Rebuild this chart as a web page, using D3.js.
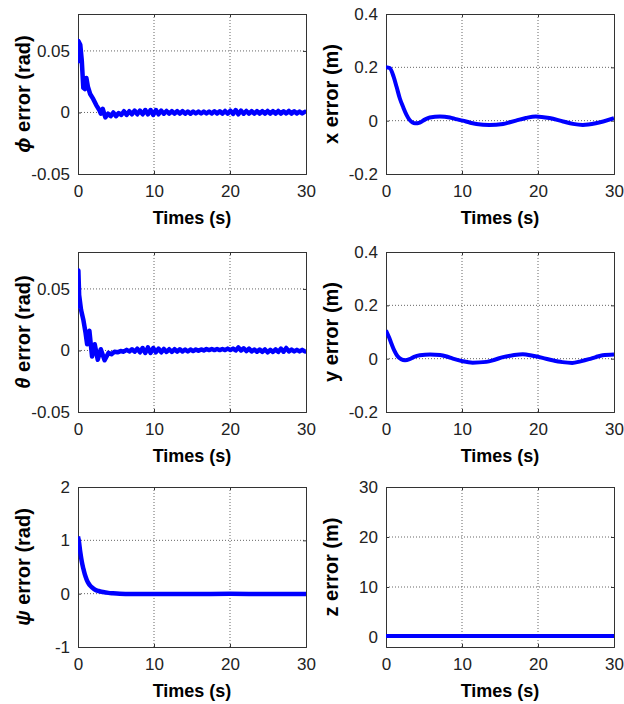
<!DOCTYPE html>
<html>
<head>
<meta charset="utf-8">
<script src="https://cdn.jsdelivr.net/npm/d3@7"></script>
<style>
  body { margin: 0; background: #fff; }
  svg { display: block; font-family: "Liberation Sans", Arial, sans-serif; }
</style>
</head>
<body>
<script>
// time axis shared by every panel
const timeTicks = [0, 10, 20, 30]

// [t (s), error]
const phiErr = [[0,0.040],[0.05,0.058],[0.3,0.055],[0.5,0.042],[0.7,0.020],[0.9,0.019],[1.1,0.028],[1.3,0.021],[1.6,0.015],[2.0,0.011],[2.4,0.006],[2.8,0.002],[3.0,-0.001],[3.25,0.003],[3.6,-0.004],[3.95,-0.001],[4.3,-0.003],[4.65,0.000],[5.0,-0.003],[5.35,-0.0005],[5.7,-0.002],[6.05,0.001],[6.4,-0.002],[6.75,0.001],[7.1,-0.0015],[7.45,0.0015],[7.8,-0.0015],[8.15,0.0015],[8.5,-0.0015],[8.85,0.002],[9.2,-0.0015],[9.55,0.002],[9.9,-0.002],[10.25,0.002],[10.6,-0.0015],[10.95,0.0015],[11.3,-0.001],[11.65,0.0012],[12.0,-0.001],[12.35,0.001],[12.7,-0.001],[13.05,0.001],[13.4,-0.001],[13.75,0.001],[14.1,-0.001],[14.45,0.0008],[14.8,-0.001],[15.15,0.0008],[15.5,-0.0008],[15.85,0.0008],[16.2,-0.0008],[16.55,0.0008],[16.9,-0.0008],[17.25,0.0008],[17.6,-0.0008],[17.95,0.001],[18.3,-0.0008],[18.65,0.001],[19.0,-0.001],[19.35,0.0012],[19.7,-0.001],[20.05,0.0015],[20.4,-0.0012],[20.75,0.002],[21.1,-0.0015],[21.45,0.0015],[21.8,-0.001],[22.15,0.0012],[22.5,-0.001],[22.85,0.001],[23.2,-0.001],[23.55,0.001],[23.9,-0.001],[24.25,0.001],[24.6,-0.001],[24.95,0.0012],[25.3,-0.001],[25.65,0.001],[26.0,-0.001],[26.35,0.0012],[26.7,-0.001],[27.05,0.001],[27.4,-0.0008],[27.75,0.0012],[28.1,-0.001],[28.45,0.001],[28.8,-0.0008],[29.15,0.0008],[29.5,-0.0008],[29.85,0.0005],[30,0]]

const thetaErr = [[0,0.034],[0.05,0.065],[0.15,0.045],[0.4,0.033],[0.7,0.025],[1.0,0.014],[1.2,0.005],[1.5,0.016],[1.85,-0.005],[2.2,0.005],[2.6,-0.0075],[3.0,0.001],[3.5,-0.008],[4.0,-0.002],[4.4,-0.003],[4.8,-0.001],[5.2,-0.0015],[5.6,-0.0005],[6.0,-0.001],[6.4,0.0005],[6.75,-0.0008],[7.1,0.001],[7.45,-0.001],[7.8,0.0015],[8.15,-0.0015],[8.5,0.002],[8.85,-0.002],[9.2,0.0025],[9.55,-0.002],[9.9,0.002],[10.25,-0.0015],[10.6,0.0015],[10.95,-0.0015],[11.3,0.0012],[11.65,-0.0012],[12.0,0.001],[12.35,-0.0012],[12.7,0.001],[13.05,-0.001],[13.4,0.001],[13.75,-0.0008],[14.1,0.0008],[14.45,-0.0008],[14.8,0.0008],[15.15,-0.0005],[15.5,0.0008],[15.85,-0.0003],[16.2,0.0008],[16.55,0],[16.9,0.0012],[17.25,0.0003],[17.6,0.0012],[17.95,0.0003],[18.3,0.0012],[18.65,0.0003],[19.0,0.0012],[19.35,0.0003],[19.7,0.0015],[20.05,0.0003],[20.4,0.0015],[20.75,0],[21.1,0.0025],[21.45,0],[21.8,0.0018],[22.15,-0.0005],[22.5,0.0015],[22.85,-0.0008],[23.2,0.0008],[23.55,-0.001],[23.9,0.0008],[24.25,-0.0012],[24.6,0.0008],[24.95,-0.0015],[25.3,0.0005],[25.65,-0.0012],[26.0,0.0008],[26.35,-0.0012],[26.7,0.0015],[27.05,-0.001],[27.4,0.002],[27.75,-0.0008],[28.1,0.0008],[28.45,-0.0008],[28.8,0.0005],[29.15,-0.0008],[29.5,0.0005],[29.85,-0.0008],[30,0]]

const psiErr = [[0,1.07],[0.1,1.0],[0.3,0.78],[0.5,0.6],[0.7,0.47],[0.9,0.36],[1.15,0.26],[1.4,0.19],[1.6,0.15],[1.9,0.11],[2.25,0.075],[2.7,0.05],[3.3,0.03],[4.0,0.015],[4.6,0.008],[5.5,0.0],[7,-0.005],[10,-0.005],[15,-0.005],[20,-0.003],[25,-0.005],[30,-0.005]]

const xErr = [[0,0.200],[0.5,0.197],[1.0,0.165],[1.4,0.126],[1.8,0.085],[2.27,0.05],[2.7,0.022],[3.1,0.003],[3.5,-0.007],[3.8,-0.010],[4.45,-0.007],[5.1,0.004],[5.77,0.012],[7.1,0.016],[8.4,0.012],[9.2,0.006],[10.1,0],[11.0,-0.007],[11.9,-0.0125],[13.6,-0.016],[15.4,-0.0125],[16.3,-0.006],[17.1,0],[18.4,0.01],[19.7,0.016],[21.5,0.01],[23.3,-0.003],[24.6,-0.012],[25.9,-0.016],[27.6,-0.01],[30,0.009]]

const yErr = [[0,0.106],[0.4,0.08],[0.75,0.054],[1.1,0.03],[1.5,0.01],[2.0,-0.002],[2.5,-0.006],[3.1,-0.002],[3.7,0.007],[4.45,0.013],[5.8,0.016],[7.1,0.014],[8.0,0.008],[8.8,0],[10.1,-0.01],[11.4,-0.015],[13.2,-0.012],[14.3,-0.004],[15.4,0.006],[16.7,0.013],[18.0,0.017],[19.3,0.011],[20.6,0.003],[21.9,-0.006],[23.2,-0.013],[24.5,-0.016],[25.6,-0.01],[26.7,-0.002],[27.6,0.006],[28.5,0.013],[30,0.016]]

const zErr = [[0,0.2],[30,0.2]]

const angleTicks = [-0.05, 0, 0.05]
const posTicks = [-0.2, 0, 0.2, 0.4]
const psiTicks = [-1, 0, 1, 2]
const zTicks = [0, 10, 20, 30]

const width = 624, height = 704

const panels = [
    { greek: "\u03D5", label: " error (rad)", data: phiErr, domain: [-0.05, 0.08], ticks: angleTicks, left: 78, top: 14, smooth: false, lw: 4.5 },
    { greek: "", label: "x error (m)", data: xErr, domain: [-0.2, 0.4], ticks: posTicks, left: 386, top: 14, smooth: true, lw: 4 },
    { greek: "\u03B8", label: " error (rad)", data: thetaErr, domain: [-0.05, 0.08], ticks: angleTicks, left: 78, top: 252, smooth: false, lw: 4.5 },
    { greek: "", label: "y error (m)", data: yErr, domain: [-0.2, 0.4], ticks: posTicks, left: 386, top: 252, smooth: true, lw: 4 },
    { greek: "\u03C8", label: " error (rad)", data: psiErr, domain: [-1, 2], ticks: psiTicks, left: 78, top: 487, smooth: true, lw: 4.5 },
    { greek: "", label: "z error (m)", data: zErr, domain: [-2, 30], ticks: zTicks, left: 386, top: 487, smooth: false, lw: 4 }
]
const pw = 228, ph = 160

const svg = d3.select("body").append("svg")
    .attr("width", width)
    .attr("height", height)

panels.forEach((p, i) => {
    const g = svg.append("g").attr("transform", `translate(${p.left},${p.top})`)
    const x = d3.scaleLinear().domain([0, 30]).range([0, pw])
    const y = d3.scaleLinear().domain(p.domain).range([ph, 0])

    // dotted grid
    g.append("g").selectAll("line").data(timeTicks.slice(1, -1)).join("line")
        .attr("x1", d => x(d)).attr("x2", d => x(d))
        .attr("y1", 0).attr("y2", ph)
        .attr("stroke", "#666").attr("stroke-width", 1).attr("stroke-dasharray", "1,2")
    g.append("g").selectAll("line").data(p.ticks.filter(d => y(d) > 1 && y(d) < ph - 1)).join("line")
        .attr("x1", 0).attr("x2", pw)
        .attr("y1", d => y(d)).attr("y2", d => y(d))
        .attr("stroke", "#666").attr("stroke-width", 1).attr("stroke-dasharray", "1,2")

    // axes
    g.append("g").attr("transform", `translate(0,${ph})`)
        .call(d3.axisBottom(x).tickValues(timeTicks).tickSize(-3).tickPadding(11).tickFormat(d3.format("d")))
    g.append("g")
        .call(d3.axisLeft(y).tickValues(p.ticks).tickSize(-3).tickPadding(8).tickFormat(d => d3.format("")(d).replace("\u2212", "-")))
    g.append("g").attr("transform", `translate(${pw},0)`)
        .call(d3.axisRight(y).tickValues(p.ticks).tickSize(-3).tickFormat(""))
    g.append("g")
        .call(d3.axisTop(x).tickValues(timeTicks).tickSize(-3).tickFormat(""))
    g.selectAll(".domain").attr("stroke", "#333")
    g.selectAll(".tick line").attr("stroke", "#333")
    g.selectAll(".tick text").attr("font-size", 17).attr("fill", "#222")
        .attr("font-family", "'Liberation Sans', Arial, sans-serif")

    // curve
    g.append("clipPath").attr("id", "clip" + i)
        .append("rect").attr("width", pw).attr("height", ph)
    const line = d3.line()
        .x(d => x(d[0]))
        .y(d => y(d[1]))
        .curve(p.smooth ? d3.curveMonotoneX : d3.curveLinear)
    g.append("path")
        .datum(p.data)
        .attr("clip-path", `url(#clip${i})`)
        .attr("d", line)
        .attr("fill", "none")
        .attr("stroke", "#0000ff")
        .attr("stroke-width", p.lw)
        .attr("stroke-linejoin", "round")

    // labels
    g.append("text")
        .attr("x", pw / 2).attr("y", ph + 50)
        .attr("text-anchor", "middle")
        .attr("font-size", 18).attr("font-weight", "bold")
        .text("Times (s)")
    const yl = g.append("text")
        .attr("transform", `translate(${-48},${ph / 2}) rotate(-90)`)
        .attr("text-anchor", "middle")
        .attr("font-size", 20).attr("font-weight", "bold")
    if (p.greek) yl.append("tspan").attr("font-style", "italic").text(p.greek)
    yl.append("tspan").text(p.label)
})
</script>
</body>
</html>
